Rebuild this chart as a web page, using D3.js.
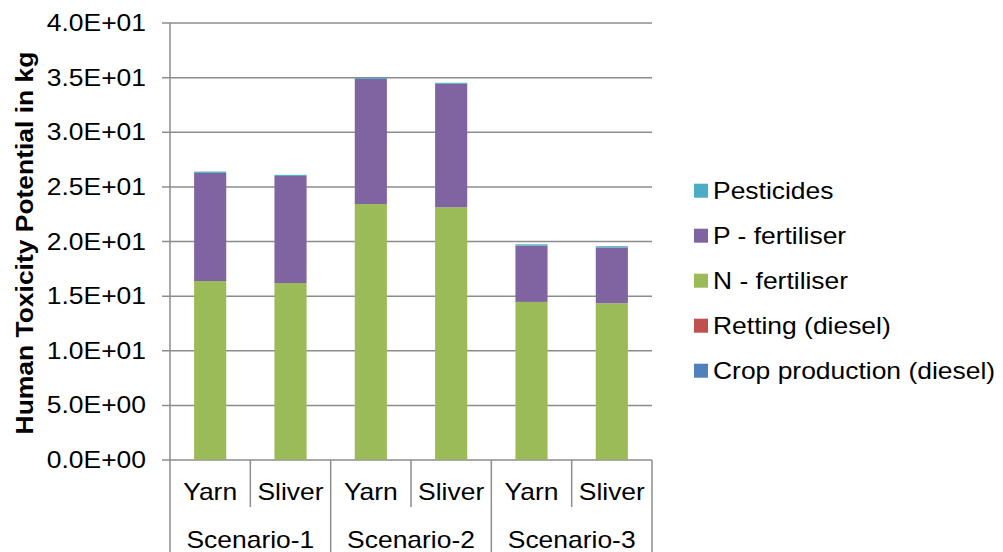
<!DOCTYPE html>
<html><head><meta charset="utf-8">
<script src="https://cdn.jsdelivr.net/npm/d3@7"></script>
<style>body{margin:0;background:#fff}svg{display:block}text{font-family:"Liberation Sans",Arial,sans-serif;fill:#000}</style>
</head><body><svg id="c" width="1003" height="552"></svg>
<script>
const scenarios = ["Scenario-1","Scenario-2","Scenario-3"];
const products = ["Yarn","Sliver"];
const seriesNames = ["Crop production (diesel)","Retting (diesel)","N - fertiliser","P - fertiliser","Pesticides"];
const seriesColors = ["#4F81BD","#C0504D","#9BBB59","#8064A2","#4BACC6"];
const cropDiesel = [0.02,0.02,0.02,0.02,0.02,0.02];
const retting    = [0.01,0.01,0.01,0.01,0.01,0.01];
const nFert      = [16.35,16.17,23.40,23.10,14.44,14.32];
const pFert      = [9.90,9.80,11.45,11.30,5.15,5.10];
const pesticides = [0.12,0.10,0.10,0.10,0.12,0.12];
const yTicks = [0,5,10,15,20,25,30,35,40];

const seriesVals = [cropDiesel, retting, nFert, pFert, pesticides];
const rows = [];
scenarios.forEach((s,si)=>products.forEach((p,pi)=>{
  const i = si*2+pi;
  const r = {key:i, scenario:s, product:p};
  seriesNames.forEach((n,k)=>r[n]=seriesVals[k][i]);
  rows.push(r);
}));

const svg = d3.select("#c");
const L=170, R=652, T=23, B=460;
const FS = "23px", SX = 1.15;
const x = d3.scaleBand().domain(rows.map(d=>d.key)).range([L,R]).paddingInner(0.6).paddingOuter(0.3);
const xCat = d3.scaleBand().domain(rows.map(d=>d.key)).range([L,R]);
const xScen = d3.scaleBand().domain(scenarios).range([L,R]);
const y = d3.scaleLinear().domain([0,40]).range([B,T]);
const grey = "#8c8c8c";

function label(g, px, py, txt, anchor, extra){
  const t = g.append("text").attr("transform",`translate(${px},${py}) scale(${SX},1)`)
    .attr("dy","0.35em").attr("text-anchor",anchor).style("font-size",FS).text(txt);
  return t;
}

// gridlines
svg.append("g").selectAll("line").data(yTicks).join("line")
  .attr("x1",L-8).attr("x2",R).attr("y1",d=>y(d)).attr("y2",d=>y(d))
  .attr("stroke",grey).attr("stroke-width",1.5);

// y axis labels
const fmt = d=>d.toExponential(1).replace(/e([+-])(\d)$/,"E$10$2").replace(/e([+-])(\d\d)$/,"E$1$2");
const yl = svg.append("g");
yTicks.forEach(d=>label(yl, L-24, y(d), fmt(d), "end"));

// y axis line
svg.append("line").attr("x1",L).attr("x2",L).attr("y1",T).attr("y2",552).attr("stroke",grey).attr("stroke-width",1.5);

// bars
const stack = d3.stack().keys(seriesNames)(rows);
svg.append("g").selectAll("g").data(stack).join("g")
  .attr("fill",(d,i)=>seriesColors[i])
  .selectAll("rect").data(d=>d).join("rect")
  .attr("x",d=>x(d.data.key)).attr("width",x.bandwidth())
  .attr("y",d=>y(d[1])).attr("height",d=>y(d[0])-y(d[1]));

// category separators
const sepG = svg.append("g");
rows.forEach((d,i)=>{
  if(i===0) return;
  const xx = xCat(d.key);
  const long = i%2===0;
  sepG.append("line").attr("x1",xx).attr("x2",xx).attr("y1",B).attr("y2",long?552:507)
    .attr("stroke",grey).attr("stroke-width",1.5);
});
sepG.append("line").attr("x1",R).attr("x2",R).attr("y1",B).attr("y2",552).attr("stroke",grey).attr("stroke-width",1.5);

// category labels
const cl = svg.append("g");
rows.forEach(d=>label(cl, xCat(d.key)+xCat.bandwidth()/2, 492, d.product, "middle"));
scenarios.forEach(s=>label(cl, xScen(s)+xScen.bandwidth()/2, 540, s, "middle"));

// y title
svg.append("text").attr("transform",`translate(33,243) rotate(-90) scale(${SX},1)`).attr("text-anchor","middle")
  .style("font-size",FS).style("font-weight","bold").text("Human Toxicity Potential in kg");

// legend
const legendOrder = seriesNames.map((n,i)=>({n,c:seriesColors[i]})).reverse();
const lg = svg.append("g");
legendOrder.forEach((d,i)=>{
  const yy = 190.7+i*45;
  lg.append("rect").attr("x",694).attr("y",yy-7).attr("width",14).attr("height",14).attr("fill",d.c);
  label(lg, 713, yy, d.n, "start");
});
</script></body></html>
